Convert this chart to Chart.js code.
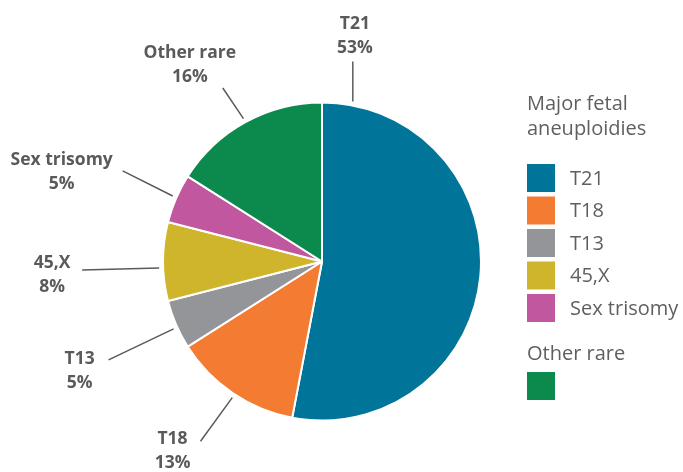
<!DOCTYPE html>
<html>
<head>
<meta charset="utf-8">
<script src="https://cdn.jsdelivr.net/npm/chart.js@4.4.1/dist/chart.umd.min.js"></script>
<style>
  html, body { margin: 0; padding: 0; background: #fff; }
  #wrap { position: relative; width: 683px; height: 472px; }
</style>
</head>
<body>
<div id="wrap"><canvas id="chart"></canvas></div>
<script>
// data, clockwise from 12 o'clock
const categories = ['T21', 'T18', 'T13', '45,X', 'Sex trisomy', 'Other rare'];
const shares = [53, 13, 5, 8, 5, 16];
const sliceColors = ['#007599', '#f47b32', '#939598', '#cfb52b', '#c0579f', '#0c8a4d'];
const legendTitle = ['Major fetal', 'aneuploidies'];
const legendOtherTitle = 'Other rare';

// where each callout sits: angle on the rim (deg from top, clockwise),
// direction + length of the leader, offset of the text block from the leader's end
const callouts = [
  { at: 10.9, dir: 0, len: 40, dx: 2, dy: -25 },
  { at: -146.6, dir: -144, len: 54, dx: -28, dy: 10 },
  { at: -114.4, dir: -115.5, len: 72, dx: -29, dy: 11 },
  { at: -92.3, dir: -91.5, len: 77, dx: -30, dy: 5 },
  { at: -66.3, dir: -63.4, len: 56, dx: -61, dy: 1 },
  { at: -28.8, dir: -34, len: 37, dx: -33, dy: -23 }
];

const rad = d => d * Math.PI / 180;

const calloutPlugin = {
  id: 'callouts',
  afterDatasetsDraw(chart) {
    const ctx = chart.ctx;
    const arc = chart.getDatasetMeta(0).data[0];
    const cx = arc.x, cy = arc.y, r = arc.outerRadius + 4;
    ctx.save();
    callouts.forEach((c, i) => {
      const x1 = cx + Math.sin(rad(c.at)) * r;
      const y1 = cy - Math.cos(rad(c.at)) * r;
      const x2 = x1 + Math.sin(rad(c.dir)) * c.len;
      const y2 = y1 - Math.cos(rad(c.dir)) * c.len;
      ctx.strokeStyle = '#5a5a5a';
      ctx.lineWidth = 1.5;
      ctx.beginPath();
      ctx.moveTo(x1, y1);
      ctx.lineTo(x2, y2);
      ctx.stroke();

      ctx.fillStyle = '#5a5a5a';
      ctx.font = 'bold 17.5px "Open Sans"';
      ctx.textAlign = 'center';
      ctx.textBaseline = 'middle';
      const tx = x2 + c.dx, ty = y2 + c.dy;
      ctx.fillText(categories[i], tx, ty - 12);
      ctx.fillText(shares[i] + '%', tx, ty + 12);
    });
    ctx.restore();
  }
};

const legendPlugin = {
  id: 'sideLegend',
  afterDraw(chart) {
    const ctx = chart.ctx;
    const left = 527;
    ctx.save();
    ctx.fillStyle = '#5f5f5f';
    ctx.font = '20px "Open Sans"';
    ctx.textAlign = 'left';
    ctx.textBaseline = 'alphabetic';
    ctx.fillText(legendTitle[0], left, 110);
    ctx.fillText(legendTitle[1], left, 135);

    // the first five are the major aneuploidies
    for (let i = 0; i < 5; i++) {
      const top = 164 + i * 32.5;
      ctx.fillStyle = sliceColors[i];
      ctx.fillRect(left, top, 28, 28);
      ctx.fillStyle = '#5f5f5f';
      ctx.textBaseline = 'middle';
      ctx.fillText(categories[i], 570, top + 15);
    }

    ctx.textBaseline = 'alphabetic';
    ctx.fillText(legendOtherTitle, left, 360);
    ctx.fillStyle = sliceColors[5];
    ctx.fillRect(left, 372, 28, 28);
    ctx.restore();
  }
};

new Chart(document.getElementById('chart'), {
  type: 'pie',
  data: {
    labels: categories,
    datasets: [{
      data: shares,
      backgroundColor: sliceColors,
      borderColor: '#ffffff',
      borderWidth: 2
    }]
  },
  options: {
    responsive: true,
    maintainAspectRatio: false,
    animation: false,
    layout: { padding: { left: 162, right: 201, top: 101, bottom: 50 } },
    plugins: {
      legend: { display: false },
      tooltip: { enabled: false }
    }
  },
  plugins: [calloutPlugin, legendPlugin]
});
</script>
</body>
</html>
